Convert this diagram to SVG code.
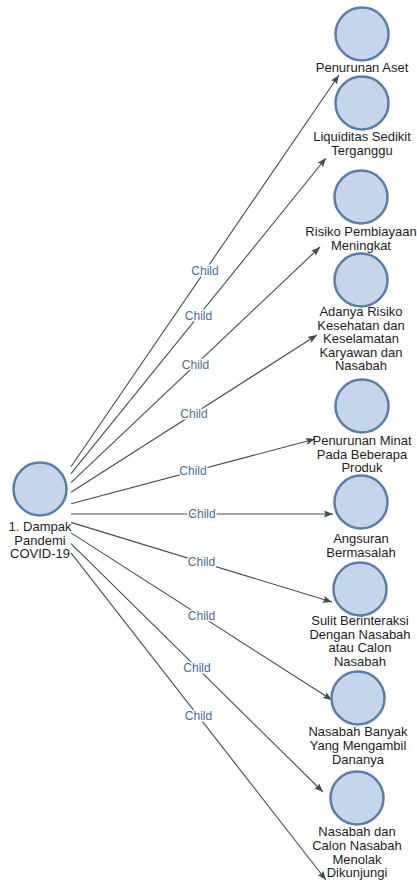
<svg xmlns="http://www.w3.org/2000/svg" width="417" height="882" viewBox="0 0 417 882">
<style>
.bg{fill:#ffffff}
.node circle{fill:#c5d5eb;stroke:#5a7ea8;stroke-width:2.5}
.node text{font-family:"Liberation Sans",Arial,sans-serif;font-size:13px;fill:#1e1e1e;text-anchor:middle}
.edge{stroke:#3f5050;stroke-width:1.1;fill:none;marker-end:url(#arr)}
.lbl{font-family:"Liberation Sans",Arial,sans-serif;font-size:12px;fill:#4a6d93;text-anchor:middle;stroke:#ffffff;stroke-width:3;paint-order:stroke;stroke-linejoin:round}
</style>
<defs>
<marker id="arr" markerUnits="userSpaceOnUse" markerWidth="10" markerHeight="8" refX="9" refY="3.5" orient="auto">
<path d="M0,0 L9,3.5 L0,7 L1.5,3.5 z" fill="#3f5050"/>
</marker>
</defs>
<rect class="bg" x="0" y="0" width="417" height="882"/>
<g id="connectors">
<line class="edge" x1="71" y1="466.7" x2="339" y2="75"/>
<line class="edge" x1="71" y1="473.6" x2="326" y2="158"/>
<line class="edge" x1="71" y1="482.7" x2="320" y2="247"/>
<line class="edge" x1="71" y1="492.2" x2="317" y2="335"/>
<line class="edge" x1="71" y1="503.8" x2="315" y2="439"/>
<line class="edge" x1="71" y1="514" x2="333" y2="514"/>
<line class="edge" x1="71" y1="522.4" x2="332" y2="602"/>
<line class="edge" x1="71" y1="532.9" x2="332" y2="700"/>
<line class="edge" x1="71" y1="543.6" x2="323" y2="792"/>
<line class="edge" x1="71" y1="552.8" x2="326" y2="880"/>
<text class="lbl" x="205" y="275">Child</text>
<text class="lbl" x="198.5" y="320">Child</text>
<text class="lbl" x="195.5" y="369">Child</text>
<text class="lbl" x="194" y="418">Child</text>
<text class="lbl" x="193" y="475">Child</text>
<text class="lbl" x="202" y="518">Child</text>
<text class="lbl" x="201.5" y="566">Child</text>
<text class="lbl" x="201.5" y="620">Child</text>
<text class="lbl" x="197" y="672">Child</text>
<text class="lbl" x="198.5" y="720">Child</text>
</g>
<g id="root" class="node">
<circle cx="40" cy="489" r="26.5"/>
<text x="40" y="531">1. Dampak</text>
<text x="40" y="544.5">Pandemi</text>
<text x="40" y="558">COVID-19</text>
</g>
<g id="n1" class="node">
<circle cx="362" cy="34" r="26.5"/>
<text x="362" y="72">Penurunan Aset</text>
</g>
<g id="n2" class="node">
<circle cx="362" cy="103" r="26.5"/>
<text x="362" y="141">Liquiditas Sedikit</text>
<text x="362" y="154.5">Terganggu</text>
</g>
<g id="n3" class="node">
<circle cx="361" cy="197" r="26.5"/>
<text x="361" y="236">Risiko Pembiayaan</text>
<text x="361" y="249.5">Meningkat</text>
</g>
<g id="n4" class="node">
<circle cx="361" cy="280" r="26.5"/>
<text x="361" y="316">Adanya Risiko</text>
<text x="361" y="329.5">Kesehatan dan</text>
<text x="361" y="343">Keselamatan</text>
<text x="361" y="356.5">Karyawan dan</text>
<text x="361" y="370">Nasabah</text>
</g>
<g id="n5" class="node">
<circle cx="362" cy="406" r="26.5"/>
<text x="362" y="445">Penurunan Minat</text>
<text x="362" y="458.5">Pada Beberapa</text>
<text x="362" y="472">Produk</text>
</g>
<g id="n6" class="node">
<circle cx="361" cy="502" r="26.5"/>
<text x="361" y="543">Angsuran</text>
<text x="361" y="556.5">Bermasalah</text>
</g>
<g id="n7" class="node">
<circle cx="360" cy="589" r="26.5"/>
<text x="360" y="625">Sulit Berinteraksi</text>
<text x="360" y="638.5">Dengan Nasabah</text>
<text x="360" y="652">atau Calon</text>
<text x="360" y="665.5">Nasabah</text>
</g>
<g id="n8" class="node">
<circle cx="358" cy="698" r="26.5"/>
<text x="358" y="736">Nasabah Banyak</text>
<text x="358" y="750">Yang Mengambil</text>
<text x="358" y="764">Dananya</text>
</g>
<g id="n9" class="node">
<circle cx="357" cy="798" r="26.5"/>
<text x="357" y="836">Nasabah dan</text>
<text x="357" y="850">Calon Nasabah</text>
<text x="357" y="863.5">Menolak</text>
<text x="357" y="877">Dikunjungi</text>
</g>
</svg>
